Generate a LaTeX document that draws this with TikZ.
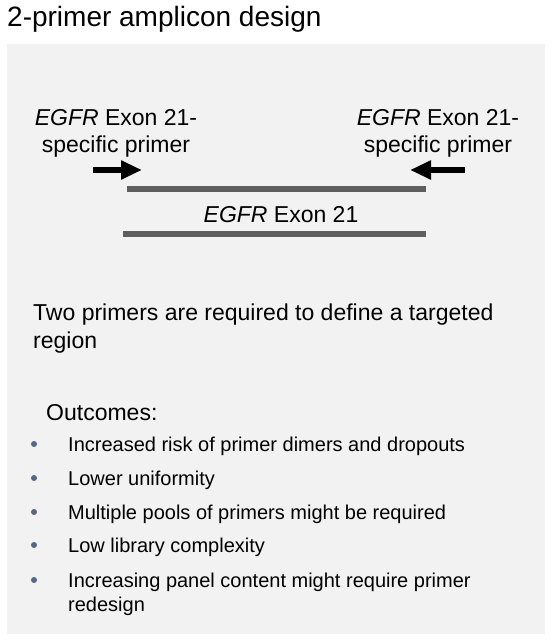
\documentclass[tikz,border=0pt]{standalone}
\usepackage{fontspec}
\setmainfont{Liberation Sans}
\usetikzlibrary{positioning,arrows.meta}
\definecolor{panel}{HTML}{F2F2F2}
\definecolor{strand}{HTML}{5E5E5E}
\definecolor{dot}{HTML}{53678A}

\begin{document}
\begin{tikzpicture}
    [ x = 1pt, y = -1pt
    , heading/.style =
      { anchor=base west, inner sep=0pt, font=\fontsize{28}{32}\selectfont }
    , primertext/.style =
      { anchor=north, align=center, inner sep=0pt, font=\fontsize{23}{27}\selectfont }
    , body/.style =
      { anchor=north west, align=left, inner sep=0pt, font=\fontsize{23}{28}\selectfont }
    , outcome/.style =
      { anchor=north west, align=left, inner sep=0pt, font=\fontsize{20}{24}\selectfont }
    , bullet/.style =
      { circle, fill=dot, inner sep=0pt, minimum size=6pt }
    , primer/.style =
      { line width=6pt, -{Triangle[length=21pt,width=18pt]} }
    , exon/.style =
      { line width=6pt, strand }
    ]
    \useasboundingbox (0,0) rectangle (552,642);
    \fill [panel] (7,44) rectangle (545,634);

    \node [heading] (title) at (7,27) {2-primer amplicon design};

    % primers and target
    \node [primertext] (fwdtext) at (116,109) {\textit{EGFR} Exon 21-\\specific primer};
    \node [primertext] (revtext) at (438,109) {\textit{EGFR} Exon 21-\\specific primer};
    \coordinate (fwdtail) at (93,170);
    \coordinate (fwdtip) at (142,170);
    \coordinate (revtail) at (465,170);
    \coordinate (revtip) at (410,170);
    \draw [primer] (fwdtail) -- (fwdtip);
    \draw [primer] (revtail) -- (revtip);

    \coordinate (topleft) at (127,189);
    \coordinate (topright) at (426,189);
    \coordinate (botleft) at (123,234);
    \coordinate (botright) at (426,234);
    \draw [exon] (topleft) -- (topright);
    \draw [exon] (botleft) -- (botright);
    \node [anchor=base, inner sep=0pt, font=\fontsize{23}{26}\selectfont] (exonname) at (281,222) {\textit{EGFR} Exon 21};

    % text
    \node [body] (claim) at (33,304) {Two primers are required to define a targeted\\region};
    \node [body] (head) at (46,404) {Outcomes:};

    \node [bullet] (b1) at (34,444) {};
    \node [outcome] (o1) at (68,437) {Increased risk of primer dimers and dropouts};
    \node [bullet] (b2) at (34,478) {};
    \node [outcome] (o2) at (68,471) {Lower uniformity};
    \node [bullet] (b3) at (34,512) {};
    \node [outcome] (o3) at (68,505) {Multiple pools of primers might be required};
    \node [bullet] (b4) at (34,545) {};
    \node [outcome] (o4) at (68,538) {Low library complexity};
    \node [bullet] (b5) at (34,580) {};
    \node [outcome] (o5) at (68,573) {Increasing panel content might require primer\\redesign};
\end{tikzpicture}
\end{document}
